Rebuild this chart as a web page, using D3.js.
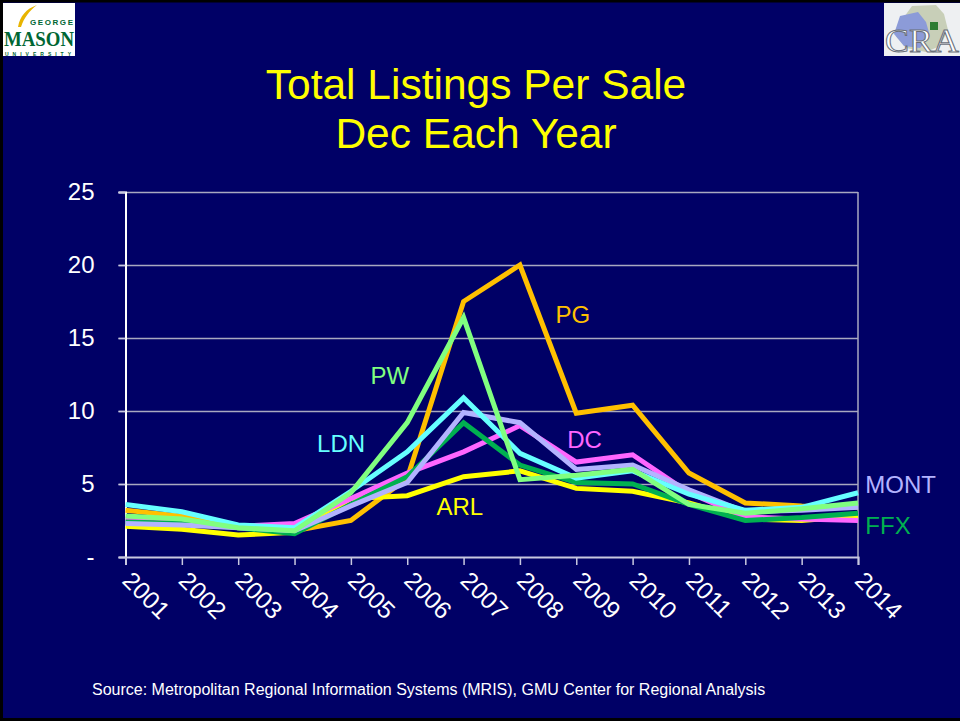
<!DOCTYPE html>
<html>
<head>
<meta charset="utf-8">
<script src="https://cdn.jsdelivr.net/npm/d3@7"></script>
<style>
  body { margin: 0; background: #000066; }
  svg { display: block; font-family: Arial, "Liberation Sans", sans-serif; }
</style>
</head>
<body>
<svg id="chart" width="960" height="721"></svg>
<script>
'use strict';
// Listings per sale, December of each year
const years = ['2001', '2002', '2003', '2004', '2005', '2006', '2007', '2008', '2009', '2010', '2011', '2012', '2013', '2014'];
const yTicks = [0, 5, 10, 15, 20, 25];

const pg = [3.2, 2.8, 2.0, 1.8, 2.5, 5.4, 17.5, 20.0, 9.85, 10.4, 5.75, 3.7, 3.5, 3.4];
const pw = [2.8, 2.6, 2.0, 1.8, 4.4, 9.2, 16.4, 5.3, 5.6, 6.0, 3.6, 3.0, 3.3, 3.7];
const ldn = [3.6, 3.1, 2.2, 2.0, 4.5, 7.2, 10.9, 7.1, 5.4, 5.9, 4.3, 3.2, 3.4, 4.4];
const dc = [2.6, 2.4, 2.1, 2.3, 4.0, 5.75, 7.2, 9.0, 6.5, 7.0, 4.4, 2.75, 2.6, 2.5];
const mont = [2.3, 2.2, 2.0, 1.8, 3.5, 5.1, 9.9, 9.2, 6.0, 6.3, 4.6, 3.1, 3.2, 3.4];
const ffx = [2.4, 2.3, 2.0, 1.6, 3.6, 5.5, 9.2, 6.3, 5.1, 5.0, 3.6, 2.5, 2.7, 3.0];
const arl = [2.1, 1.9, 1.5, 1.7, 4.0, 4.2, 5.5, 5.9, 4.7, 4.5, 3.7, 2.6, 2.5, 2.8];

// draw order: first one ends up underneath
const series = [
	{ name: 'PG', values: pg, color: '#FFC000', lab: [7.63, 16.0] },
	{ name: 'ARL', values: arl, color: '#FFFF00', lab: [5.52, 2.88] },
	{ name: 'DC', values: dc, color: '#FF66FF', lab: [7.84, 7.47] },
	{ name: 'FFX', values: ffx, color: '#00B050', lab: [13.13, 1.58] },
	{ name: 'MONT', values: mont, color: '#B3B3FF', lab: [13.13, 4.38] },
	{ name: 'LDN', values: ldn, color: '#66FFFF', lab: [3.4, 7.2] },
	{ name: 'PW', values: pw, color: '#80FF80', lab: [4.35, 11.85] }
];

const svg = d3.select('#chart');

// slide background and dark border
svg.append('rect')
	.attr('x', 1.5).attr('y', 1)
	.attr('width', 960).attr('height', 718.5)
	.attr('fill', '#000066')
	.attr('stroke', '#000')
	.attr('stroke-width', 3);

// title
svg.append('text')
	.attr('x', 476).attr('y', 99)
	.attr('text-anchor', 'middle')
	.attr('fill', '#FFFF00')
	.attr('font-size', 42.5)
	.text('Total Listings Per Sale');
svg.append('text')
	.attr('x', 476).attr('y', 148)
	.attr('text-anchor', 'middle')
	.attr('fill', '#FFFF00')
	.attr('font-size', 42.5)
	.text('Dec Each Year');

const plotLeft = 125.5, plotRight = 858, plotTop = 192, plotBottom = 557;

const x = d3.scaleLinear()
	.domain([0, years.length - 1])
	.range([plotLeft, plotRight]);

const y = d3.scaleLinear()
	.domain([0, 25])
	.range([plotBottom, plotTop]);

// gridlines
svg.append('g')
	.selectAll('line')
	.data(yTicks.filter(function(d) { return d > 0; }))
	.enter().append('line')
	.attr('x1', plotLeft - 7).attr('x2', plotRight)
	.attr('y1', function(d) { return Math.round(y(d)) + 0.5; })
	.attr('y2', function(d) { return Math.round(y(d)) + 0.5; })
	.attr('stroke', '#A8A8C0')
	.attr('stroke-width', 1.5);

// right frame of the plot area
svg.append('line')
	.attr('x1', plotRight).attr('x2', plotRight)
	.attr('y1', plotTop).attr('y2', plotBottom)
	.attr('stroke', '#A8A8C0')
	.attr('stroke-width', 1.5);

// y axis
const yAxis = d3.axisLeft(y)
	.tickValues(yTicks)
	.tickSize(7)
	.tickPadding(24)
	.tickFormat(function(d) { return d === 0 ? '-' : d; });

const gy = svg.append('g')
	.attr('transform', 'translate(' + plotLeft + ',0)')
	.call(yAxis);
gy.selectAll('line').attr('stroke', '#C8C8E0').attr('stroke-width', 1.5);
gy.select('.domain').attr('stroke', '#fff').attr('stroke-width', 2);
gy.selectAll('text')
	.attr('fill', '#fff')
	.attr('font-size', 24)
	.attr('font-family', 'Arial, "Liberation Sans", sans-serif');

// x axis
const xAxis = d3.axisBottom(x)
	.tickValues(d3.range(years.length))
	.tickSize(8)
	.tickFormat(function(d) { return years[d]; });

const gx = svg.append('g')
	.attr('transform', 'translate(0,' + plotBottom + ')')
	.call(xAxis);
gx.select('.domain').attr('stroke', '#C8C8E0').attr('stroke-width', 2);
gx.selectAll('line').attr('stroke', '#C8C8E0').attr('stroke-width', 1.5);
gx.selectAll('text')
	.attr('fill', '#fff')
	.attr('font-size', 24.5)
	.attr('font-family', 'Arial, "Liberation Sans", sans-serif')
	.attr('text-anchor', 'start')
	.attr('dy', 0)
	.attr('y', 0)
	.attr('transform', 'translate(-5,25) rotate(45)');

// the lines
const line = d3.line()
	.x(function(d, i) { return x(i); })
	.y(function(d) { return y(d); });

svg.append('g')
	.selectAll('path')
	.data(series)
	.enter().append('path')
	.attr('d', function(d) { return line(d.values); })
	.attr('fill', 'none')
	.attr('stroke', function(d) { return d.color; })
	.attr('stroke-width', 5)
	.attr('stroke-linejoin', 'miter');

// series labels
svg.append('g')
	.selectAll('text')
	.data(series)
	.enter().append('text')
	.attr('x', function(d) { return x(d.lab[0]); })
	.attr('y', function(d) { return y(d.lab[1]); })
	.attr('fill', function(d) { return d.color; })
	.attr('font-size', 24)
	.text(function(d) { return d.name; });

// source note
svg.append('text')
	.attr('x', 92).attr('y', 695)
	.attr('fill', '#fff')
	.attr('font-size', 16)
	.text('Source: Metropolitan Regional Information Systems (MRIS), GMU Center for Regional Analysis');

// George Mason logo (rough)
const gmu = svg.append('g');
gmu.append('rect')
	.attr('x', 3).attr('y', 3)
	.attr('width', 72).attr('height', 53)
	.attr('fill', '#fff');
gmu.append('path')
	.attr('d', 'M18,27 C20,16 26,9 37,5 C29,11 24,18 21,27 Z')
	.attr('fill', '#E8B400');
gmu.append('text')
	.attr('x', 30).attr('y', 25)
	.attr('fill', '#006633')
	.attr('font-size', 8)
	.attr('font-weight', 'bold')
	.attr('textLength', 43)
	.text('GEORGE');
gmu.append('text')
	.attr('x', 4).attr('y', 46)
	.attr('fill', '#006633')
	.attr('font-size', 21)
	.attr('font-family', '"Liberation Serif", "DejaVu Serif", serif')
	.attr('font-weight', 'bold')
	.attr('textLength', 70)
	.attr('lengthAdjust', 'spacingAndGlyphs')
	.text('MASON');
gmu.append('text')
	.attr('x', 5).attr('y', 55.5)
	.attr('fill', '#006633')
	.attr('font-size', 5)
	.attr('font-weight', 'bold')
	.attr('textLength', 66)
	.text('UNIVERSITY');

// Center for Regional Analysis logo (rough)
const cra = svg.append('g');
cra.append('rect')
	.attr('x', 884).attr('y', 3)
	.attr('width', 76).attr('height', 53)
	.attr('fill', '#EEF0F2');
cra.append('path')
	.attr('d', 'M912,6 L936,5 L944,14 L948,30 L940,46 L926,52 L906,48 L896,36 L902,20 Z')
	.attr('fill', '#C8CFB8');
cra.append('path')
	.attr('d', 'M900,16 L918,12 L926,22 L930,36 L920,48 L904,46 L894,34 Z')
	.attr('fill', '#8C9BD8');
cra.append('path')
	.attr('d', 'M930,22 L938,22 L938,30 L930,30 Z')
	.attr('fill', '#2E7D32');
cra.append('text')
	.attr('x', 885).attr('y', 52)
	.attr('fill', '#fff')
	.attr('stroke', '#6A707A')
	.attr('stroke-width', 1)
	.attr('font-size', 34)
	.attr('font-family', '"Liberation Serif", "DejaVu Serif", serif')
	.attr('textLength', 74)
	.attr('lengthAdjust', 'spacingAndGlyphs')
	.text('CRA');
</script>
</body>
</html>
